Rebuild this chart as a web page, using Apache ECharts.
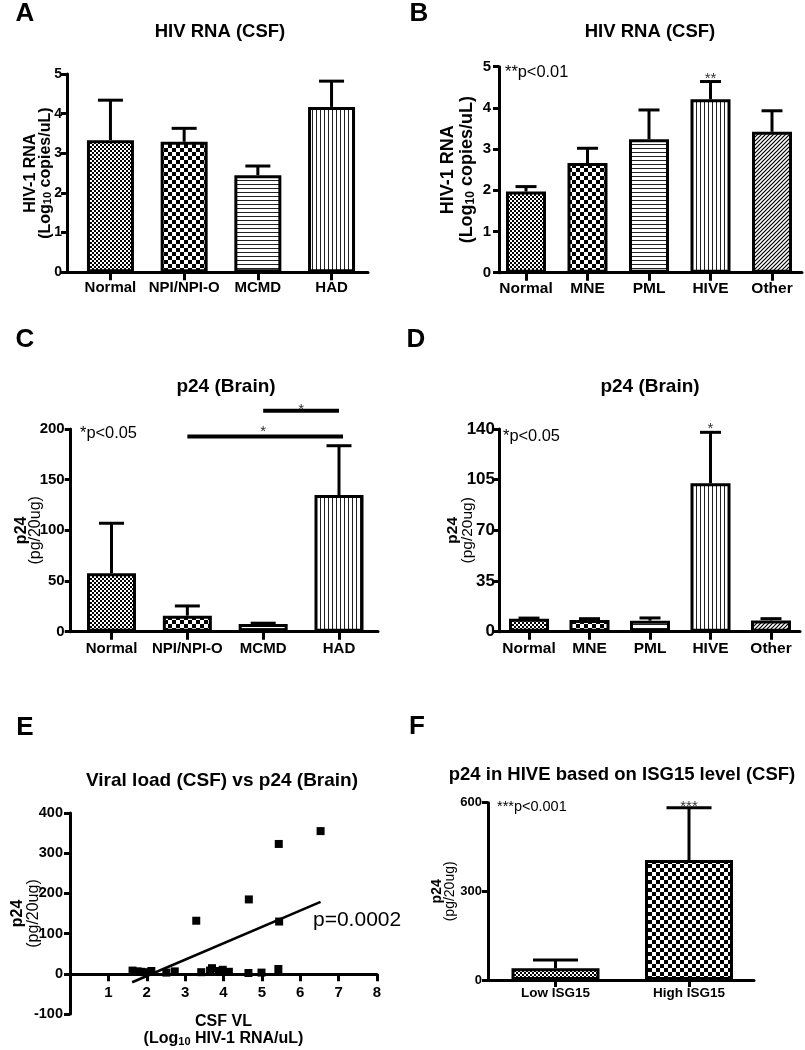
<!DOCTYPE html>
<html><head><meta charset="utf-8">
<script src="https://cdn.jsdelivr.net/npm/echarts@6/dist/echarts.min.js"></script>
<style>html,body{margin:0;padding:0;background:#fff}#c{width:805px;height:1050px}</style>
</head><body><div id="c"></div>
<script>
// ================= DATA =================
// A: HIV RNA (CSF) by neurocognitive group
const catsA = ['Normal', 'NPI/NPI-O', 'MCMD', 'HAD'];
const meanA = [3.33, 3.29, 2.45, 4.17];
const semA  = [1.01, 0.34, 0.23, 0.65];
const starA = ['', '', '', ''];
const yTicksA = [0, 1, 2, 3, 4, 5];
// B: HIV RNA (CSF) by pathology
const catsB = ['Normal', 'MNE', 'PML', 'HIVE', 'Other'];
const meanB = [1.97, 2.66, 3.24, 4.21, 3.42];
const semB  = [0.12, 0.36, 0.71, 0.43, 0.51];
const starB = ['', '', '', '**', ''];
const yTicksB = [0, 1, 2, 3, 4, 5];
// C: p24 (Brain) by neurocognitive group
const catsC = ['Normal', 'NPI/NPI-O', 'MCMD', 'HAD'];
const meanC = [57.6, 15.8, 7.6, 134.9];
const semC  = [49.4, 9.6, 0.8, 48.6];
const starC = ['', '', '', ''];
const yTicksC = [0, 50, 100, 150, 200];
const sigFromC  = [2, 1];
const sigToC    = [3, 3];
const sigLevelC = [218, 192.5];
const sigTextC  = ['*', '*'];
// D: p24 (Brain) by pathology
const catsD = ['Normal', 'MNE', 'PML', 'HIVE', 'Other'];
const meanD = [9.0, 8.0, 7.6, 102.5, 7.8];
const semD  = [0.4, 1.0, 1.9, 35.2, 1.2];
const starD = ['', '', '', '*', ''];
const yTicksD = [0, 35, 70, 105, 140];
// E: CSF viral load vs brain p24
const vlE  = [1.63, 1.76, 1.85, 1.94, 2.12, 2.51, 2.73, 3.29, 3.42, 3.65, 3.70, 3.87, 3.98, 4.14, 4.65, 4.66, 4.99, 5.43, 5.45, 5.44, 6.53];
const p24E = [8, 6, 5, 4, 7, 3, 6, 132, 4, 8, 14, 7, 10, 5, 2, 185, 3, 12, 130, 323, 355];
const fitXE = [1.62, 6.53];
const fitYE = [-21, 179];
const xTicksE = [0, 1, 2, 3, 4, 5, 6, 7, 8];
const yTicksE = [-100, 0, 100, 200, 300, 400];
// F: p24 in HIVE by ISG15 level
const catsF = ['Low ISG15', 'High ISG15'];
const meanF = [39.5, 406];
const semF  = [28, 177];
const starF = ['', '***'];
const yTicksF = [0, 300, 600];

// ================= STYLE HELPERS =================
const FF = '"Liberation Sans", Arial, Helvetica, sans-serif';
function pattern(kind) {
  const c = document.createElement('canvas');
  let s = 4;
  if (kind === 'coarse') s = 8;
  c.width = c.height = s;
  const g = c.getContext('2d');
  g.fillStyle = '#fff'; g.fillRect(0, 0, s, s);
  g.fillStyle = '#000';
  if (kind === 'fine') { g.fillRect(0, 0, 2, 2); g.fillRect(2, 2, 2, 2); }
  else if (kind === 'coarse') { g.fillRect(0, 0, 4, 4); g.fillRect(4, 4, 4, 4); }
  else if (kind === 'hlines') { g.fillStyle = '#222'; g.fillRect(0, 0, s, 1); }
  else if (kind === 'vlines') { g.fillStyle = '#222'; g.fillRect(0, 0, 1, s); }
  else if (kind === 'diag') {
    g.strokeStyle = '#000'; g.lineWidth = 1.2;
    g.beginPath(); g.moveTo(-1, 5); g.lineTo(5, -1); g.stroke();
    g.beginPath(); g.moveTo(-1, 1); g.lineTo(1, -1); g.stroke();
    g.beginPath(); g.moveTo(3, 5); g.lineTo(5, 3); g.stroke();
  }
  return { image: c, repeat: 'repeat' };
}
const patsAC = ['fine', 'coarse', 'hlines', 'vlines'];
const patsBD = ['fine', 'coarse', 'hlines', 'vlines', 'diag'];
const patsF = ['fine', 'coarse'];

const grids = [], xAxes = [], yAxes = [], series = [];

function nameRich(fs, lh, secondBold) {
  return {
    b: { fontFamily: FF, fontWeight: 'bold', fontSize: fs, lineHeight: lh, color: '#000' },
    r: { fontFamily: FF, fontWeight: secondBold ? 'bold' : 'normal', fontSize: fs, lineHeight: lh, color: '#000' },
    s: { fontFamily: FF, fontWeight: 'bold', fontSize: Math.round(fs * 0.68), lineHeight: 6, verticalAlign: 'bottom', color: '#000' }
  };
}

function barPanel(o) {
  const gi = grids.length;
  const h = o.bottom - o.top;
  grids.push({ left: o.axisX, top: o.top, width: o.axisEnd - o.axisX, height: h });
  grids.push({ left: o.bandLeft, top: o.top, width: o.band * o.cats.length, height: h });
  const ticks = o.yTicks;
  const ymin = ticks[0], ymax = ticks[ticks.length - 1], yint = ticks[1] - ticks[0];
  xAxes.push({ gridIndex: gi, type: 'value', min: 0, max: 1, axisLine: { show: true, onZero: false, lineStyle: { color: '#000', width: 3 } },
    axisTick: { show: false }, axisLabel: { show: false }, splitLine: { show: false } });
  yAxes.push({ gridIndex: gi, type: 'value', min: ymin, max: ymax, interval: yint,
    axisLine: { show: true, lineStyle: { color: '#000', width: 3 } },
    axisTick: { show: true, length: o.yTickLen || 6, lineStyle: { color: '#000', width: 3 } },
    axisLabel: { margin: o.yLabMargin, fontFamily: FF, fontWeight: 'bold', fontSize: o.yLabFs, color: '#000' },
    splitLine: { show: false },
    name: o.name, nameLocation: 'middle', nameRotate: 90, nameGap: o.nameGap, nameMoveOverlap: false,
    nameTextStyle: { rich: nameRich(o.nameFs, o.nameLh, o.nameSecondBold) } });
  const xi1 = xAxes.length, yi1 = yAxes.length;
  xAxes.push({ gridIndex: gi + 1, type: 'category', data: o.cats,
    axisLine: { show: false },
    axisTick: { show: true, alignWithLabel: true, interval: 0, length: o.xTickLen || 8, lineStyle: { color: '#000', width: 3 } },
    axisLabel: { interval: 0, margin: o.xLabMargin, fontFamily: FF, fontWeight: 'bold', fontSize: o.xLabFs, color: '#000' },
    splitLine: { show: false } });
  yAxes.push({ gridIndex: gi + 1, type: 'value', min: ymin, max: ymax, interval: yint, show: false });
  series.push({ type: 'bar', xAxisIndex: xi1, yAxisIndex: yi1, barWidth: o.barW, z: 3,
    data: o.means.map((v, i) => ({ value: v, itemStyle: { color: pattern(o.pats[i]), borderColor: '#000', borderWidth: 3 } })) });
  const stars = o.stars, capW = o.capW, sfs = o.starFs || 15, sgap = o.starGap || 5;
  series.push({ type: 'custom', xAxisIndex: xi1, yAxisIndex: yi1, z: 5,
    data: o.means.map((m, i) => [i, m, m + o.sems[i]]),
    encode: { x: 0, y: [1, 2] },
    renderItem: function (params, api) {
      const i = api.value(0);
      const p0 = api.coord([i, api.value(1)]);
      const p1 = api.coord([i, api.value(2)]);
      const ch = [
        { type: 'line', shape: { x1: p0[0], y1: p0[1], x2: p1[0], y2: p1[1] }, style: { stroke: '#000', lineWidth: 3 } },
        { type: 'line', shape: { x1: p1[0] - capW / 2, y1: p1[1], x2: p1[0] + capW / 2, y2: p1[1] }, style: { stroke: '#000', lineWidth: 3 } }
      ];
      const st = stars[params.dataIndex];
      if (st) ch.push({ type: 'text', x: p1[0], y: p1[1] + 0.77 * sfs - sgap,
        style: { text: st, font: 'normal ' + sfs + 'px ' + FF, fill: '#333', align: 'center', verticalAlign: 'bottom' } });
      return { type: 'group', children: ch };
    } });
  return { xi: xi1, yi: yi1 };
}

// ---------- A ----------
barPanel({ cats: catsA, means: meanA, sems: semA, stars: starA, pats: patsAC, yTicks: yTicksA,
  axisX: 67, axisEnd: 368, bandLeft: 73.6, band: 73.7, top: 74, bottom: 272.3,
  barW: 47, capW: 25, yLabFs: 14, yLabMargin: 5, xLabFs: 15, xLabMargin: 8,
  name: '{b|HIV-1 RNA}\n{b|(Log}{s|10}{b| copies/uL)}', nameGap: 14, nameFs: 16, nameLh: 15, nameSecondBold: true });
// ---------- B ----------
barPanel({ cats: catsB, means: meanB, sems: semB, stars: starB, pats: patsBD, yTicks: yTicksB,
  axisX: 499, axisEnd: 802, bandLeft: 495.25, band: 61.5, top: 66.7, bottom: 272.7,
  barW: 40, capW: 21, yLabFs: 15, yLabMargin: 8, xLabFs: 15.5, xLabMargin: 8, starGap: 7,
  name: '{b|HIV-1 RNA}\n{b|(Log}{s|10}{b| copies/uL)}', nameGap: 22, nameFs: 18, nameLh: 19, nameSecondBold: true });
// ---------- C ----------
const pc = barPanel({ cats: catsC, means: meanC, sems: semC, stars: starC, pats: patsAC, yTicks: yTicksC,
  axisX: 70.7, axisEnd: 378, bandLeft: 73.6, band: 75.83, top: 429, bottom: 631.7,
  barW: 49, capW: 25, yLabFs: 15, yLabMargin: 6, xLabFs: 15, xLabMargin: 10,
  name: '{b|p24}\n{r|(pg/20ug)}', nameGap: 28, nameFs: 16, nameLh: 14, nameSecondBold: false });
series.push({ type: 'custom', xAxisIndex: pc.xi, yAxisIndex: pc.yi, z: 6, clip: false,
  data: sigFromC.map((s, k) => [s, sigToC[k], sigLevelC[k]]),
  encode: { x: [0, 1], y: 2 },
  renderItem: function (params, api) {
    const a = api.coord([api.value(0), api.value(2)]);
    const b = api.coord([api.value(1), api.value(2)]);
    const gap = params.dataIndex === 0 ? 4.7 : 8.4;
    return { type: 'group', children: [
      { type: 'line', shape: { x1: a[0], y1: a[1], x2: b[0] + (params.dataIndex === 1 ? 4 : 0), y2: b[1] }, style: { stroke: '#000', lineWidth: 4 } },
      { type: 'text', x: (a[0] + b[0]) / 2, y: a[1] + 0.77 * 15 - gap,
        style: { text: sigTextC[params.dataIndex], font: 'normal 15px ' + FF, fill: '#333', align: 'center', verticalAlign: 'bottom' } }
    ] };
  } });
// ---------- D ----------
barPanel({ cats: catsD, means: meanD, sems: semD, stars: starD, pats: patsBD, yTicks: yTicksD,
  axisX: 499, axisEnd: 800, bandLeft: 498.75, band: 60.5, top: 429, bottom: 631.7,
  barW: 40, capW: 21, yLabFs: 17, yLabMargin: 4, xLabFs: 15.5, xLabMargin: 9, starGap: 8,
  name: '{b|p24}\n{r|(pg/20ug)}', nameGap: 24, nameFs: 15.5, nameLh: 15, nameSecondBold: false });
// ---------- F ----------
barPanel({ cats: catsF, means: meanF, sems: semF, stars: starF, pats: patsF, yTicks: yTicksF,
  axisX: 488, axisEnd: 754, bandLeft: 488.75, band: 133.5, top: 802.7, bottom: 980,
  barW: 88, capW: 45, yLabFs: 13, yLabMargin: 6, xLabFs: 13.5, xLabMargin: 6, xTickLen: 7, starGap: 5,
  name: '{b|p24}\n{r|(pg/20ug)}', nameGap: 31, nameFs: 14, nameLh: 13, nameSecondBold: false });

// ---------- E (scatter) ----------
const ge = grids.length;
grids.push({ left: 70, top: 813, width: 307, height: 201 });       // data grid (y from -100 to 400)
grids.push({ left: 70, top: 813, width: 307, height: 161.3 });     // x-axis frame at y = 0
const xe = xAxes.length, ye = yAxes.length;
const xMinE = xTicksE[0], xMaxE = xTicksE[xTicksE.length - 1], xIntE = xTicksE[1] - xTicksE[0];
xAxes.push({ gridIndex: ge, type: 'value', min: xMinE, max: xMaxE, interval: xIntE, show: false });
yAxes.push({ gridIndex: ge, type: 'value', min: yTicksE[0], max: yTicksE[yTicksE.length - 1], interval: yTicksE[1] - yTicksE[0],
  axisLine: { show: true, onZero: false, lineStyle: { color: '#000', width: 3 } },
  axisTick: { show: true, length: 6, lineStyle: { color: '#000', width: 3 } },
  axisLabel: { margin: 7, fontFamily: FF, fontWeight: 'bold', fontSize: 14.5, color: '#000' },
  splitLine: { show: false },
  name: '{b|p24}\n{r|(pg/20ug)}', nameLocation: 'middle', nameRotate: 90, nameGap: 28, nameMoveOverlap: false,
  nameTextStyle: { rich: nameRich(16, 16, false), padding: [0, 0, 0, 0] } });
xAxes.push({ gridIndex: ge + 1, type: 'value', min: xMinE, max: xMaxE, interval: xIntE,
  axisLine: { show: true, onZero: false, lineStyle: { color: '#000', width: 3 } },
  axisTick: { show: true, length: 7, lineStyle: { color: '#000', width: 3 } },
  axisLabel: { margin: 11, fontFamily: FF, fontWeight: 'bold', fontSize: 15, color: '#000', formatter: v => (v === 0 ? '' : String(v)) },
  splitLine: { show: false },
  name: '{b|CSF VL}\n{b|(Log}{s|10}{b| HIV-1 RNA/uL)}', nameLocation: 'middle', nameGap: 39, nameMoveOverlap: false,
  nameTextStyle: { rich: nameRich(16, 17, true) } });
yAxes.push({ gridIndex: ge + 1, type: 'value', min: 0, max: 400, show: false });
series.push({ type: 'scatter', xAxisIndex: xe, yAxisIndex: ye, symbol: 'rect', symbolSize: 8, z: 4,
  itemStyle: { color: '#000', opacity: 1 }, data: vlE.map((x, i) => [x, p24E[i]]) });
series.push({ type: 'line', xAxisIndex: xe, yAxisIndex: ye, symbol: 'none', z: 5,
  lineStyle: { color: '#000', width: 2.5 }, data: fitXE.map((x, i) => [x, fitYE[i]]) });

// ---------- texts ----------
function txt(t, x, y, font, align) {
  return { type: 'text', x: x, y: y, z: 10, style: { text: t, font: font + ' ' + FF, fill: '#000', align: align || 'center', verticalAlign: 'middle' } };
}
const graphic = [
  txt('A', 25, 14, 'bold 26px'), txt('B', 419, 14, 'bold 26px'),
  txt('C', 25, 340, 'bold 26px'), txt('D', 416, 340, 'bold 26px'),
  txt('E', 25, 728, 'bold 26px'), txt('F', 417, 727, 'bold 26px'),
  txt('HIV RNA (CSF)', 220, 32, 'bold 18.5px'),
  txt('HIV RNA (CSF)', 650, 32, 'bold 18.5px'),
  txt('p24 (Brain)', 226, 387, 'bold 19px'),
  txt('p24 (Brain)', 650, 387, 'bold 19px'),
  txt('Viral load (CSF) vs p24 (Brain)', 222, 781, 'bold 19px'),
  txt('p24 in HIVE based on ISG15 level (CSF)', 622, 775, 'bold 18.5px'),
  txt('**p<0.01', 505, 72, 'normal 16.4px', 'left'),
  txt('*p<0.05', 80, 433, 'normal 16.4px', 'left'),
  txt('*p<0.05', 503, 436, 'normal 16.4px', 'left'),
  txt('***p<0.001', 497, 807, 'normal 14.5px', 'left'),
  txt('p=0.0002', 313, 920, 'normal 21px', 'left')
];

const chart = echarts.init(document.getElementById('c'), null, { renderer: 'canvas' });
chart.setOption({
  animation: false,
  backgroundColor: '#fff',
  grid: grids.map(g => Object.assign({ containLabel: false, outerBoundsMode: 'none' }, g)),
  xAxis: xAxes, yAxis: yAxes, series: series, graphic: graphic
});
</script></body></html>
